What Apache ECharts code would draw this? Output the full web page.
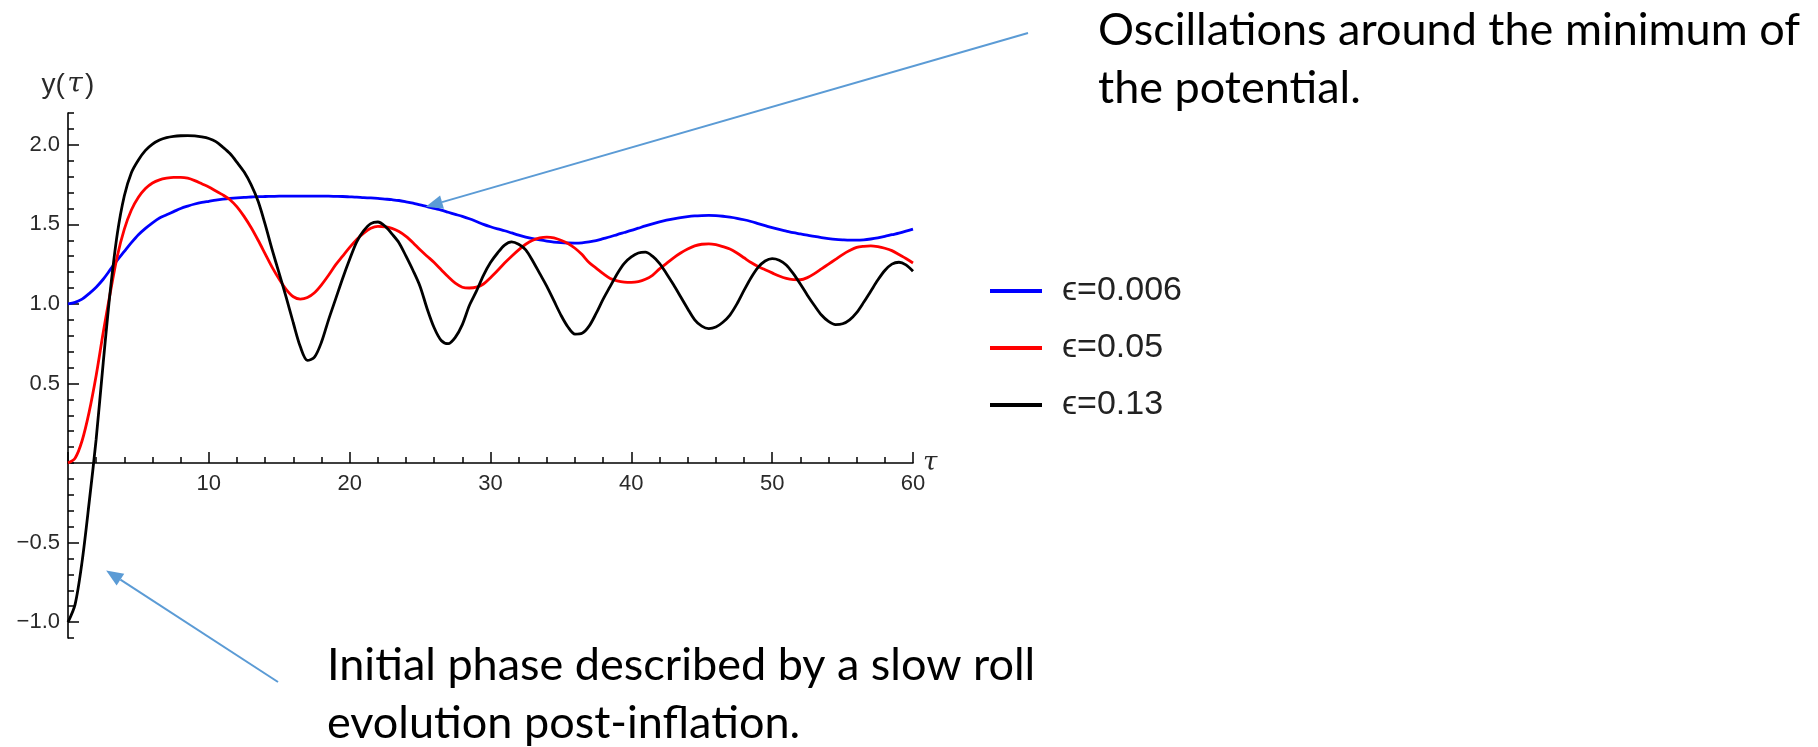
<!DOCTYPE html>
<html><head><meta charset="utf-8">
<script src="https://cdn.jsdelivr.net/npm/echarts@6/dist/echarts.min.js"></script>
<style>html,body{margin:0;padding:0;background:#fff}#c{width:1818px;height:747px}</style>
</head><body><div id="c"></div>
<script>
// ---- data (step 0.5 in tau) ----
const tau = [0,0.5,1,1.5,2,2.5,3,3.5,4,4.5,5,5.5,6,6.5,7,7.5,8,8.5,9,9.5,
  10,10.5,11,11.5,12,12.5,13,13.5,14,14.5,15,15.5,16,16.5,17,17.5,18,18.5,19,19.5,
  20,20.5,21,21.5,22,22.5,23,23.5,24,24.5,25,25.5,26,26.5,27,27.5,28,28.5,29,29.5,
  30,30.5,31,31.5,32,32.5,33,33.5,34,34.5,35,35.5,36,36.5,37,37.5,38,38.5,39,39.5,
  40,40.5,41,41.5,42,42.5,43,43.5,44,44.5,45,45.5,46,46.5,47,47.5,48,48.5,49,49.5,
  50,50.5,51,51.5,52,52.5,53,53.5,54,54.5,55,55.5,56,56.5,57,57.5,58,58.5,59,59.5,60];
const yEps0006 = [1.000,1.01,1.03,1.065,1.105,1.155,1.215,1.275,1.33,1.385,
  1.435,1.475,1.51,1.54,1.56,1.58,1.60,1.615,1.628,1.638,
  1.645,1.652,1.658,1.663,1.667,1.67,1.672,1.674,1.675,1.676,
  1.677,1.677,1.678,1.678,1.678,1.678,1.677,1.677,1.676,1.675,
  1.673,1.671,1.668,1.666,1.663,1.659,1.655,1.65,1.642,1.633,
  1.622,1.612,1.60,1.589,1.576,1.563,1.55,1.535,1.518,1.50,
  1.485,1.472,1.46,1.446,1.432,1.42,1.41,1.402,1.395,1.389,
  1.385,1.383,1.382,1.384,1.39,1.398,1.41,1.422,1.436,1.449,
  1.462,1.476,1.49,1.503,1.515,1.526,1.535,1.543,1.549,1.553,
  1.555,1.556,1.555,1.551,1.545,1.538,1.529,1.518,1.505,1.492,
  1.479,1.468,1.458,1.448,1.44,1.432,1.424,1.417,1.411,1.406,
  1.403,1.401,1.401,1.403,1.408,1.415,1.424,1.435,1.445,1.457,1.47];
const yEps005 = [0,0.03,0.14,0.32,0.55,0.82,1.07,1.30,1.47,1.59,
  1.67,1.725,1.76,1.78,1.79,1.795,1.795,1.79,1.775,1.755,
  1.735,1.71,1.685,1.655,1.61,1.55,1.48,1.40,1.315,1.23,
  1.155,1.09,1.045,1.03,1.04,1.07,1.12,1.18,1.245,1.30,
  1.355,1.405,1.445,1.475,1.487,1.485,1.475,1.455,1.425,1.385,
  1.34,1.30,1.26,1.215,1.17,1.13,1.105,1.10,1.105,1.125,
  1.165,1.21,1.257,1.30,1.34,1.375,1.40,1.415,1.42,1.415,
  1.40,1.38,1.35,1.31,1.26,1.225,1.19,1.16,1.145,1.137,
  1.135,1.14,1.155,1.18,1.22,1.255,1.29,1.32,1.345,1.365,
  1.375,1.377,1.372,1.36,1.345,1.32,1.29,1.26,1.235,1.215,
  1.195,1.175,1.16,1.153,1.152,1.165,1.19,1.22,1.25,1.28,
  1.31,1.335,1.355,1.362,1.365,1.36,1.35,1.335,1.31,1.285,1.257];
const yEps013 = [-1.00,-0.89,-0.62,-0.25,0.15,0.63,1.08,1.44,1.68,1.825,
  1.905,1.965,2.005,2.03,2.045,2.053,2.057,2.058,2.056,2.05,
  2.04,2.02,1.985,1.945,1.89,1.83,1.75,1.645,1.50,1.34,
  1.19,1.04,0.88,0.73,0.645,0.665,0.76,0.90,1.03,1.16,
  1.28,1.39,1.46,1.505,1.515,1.49,1.44,1.385,1.30,1.21,
  1.11,0.97,0.85,0.77,0.75,0.79,0.87,0.99,1.08,1.18,
  1.26,1.32,1.37,1.39,1.375,1.34,1.27,1.19,1.11,1.02,
  0.93,0.855,0.81,0.815,0.86,0.94,1.03,1.11,1.19,1.255,
  1.295,1.32,1.325,1.30,1.255,1.19,1.12,1.045,0.97,0.90,
  0.86,0.845,0.855,0.885,0.93,1.00,1.085,1.165,1.23,1.27,
  1.285,1.275,1.245,1.19,1.125,1.055,0.99,0.93,0.89,0.87,
  0.875,0.90,0.945,1.01,1.08,1.15,1.21,1.25,1.262,1.245,1.205];
const seriesNames = ['\u03F5=0.006','\u03F5=0.05','\u03F5=0.13'];
const seriesColors = ['#0000ff','#ff0000','#000000'];
const yMajorTicks = [-1,-0.5,0.5,1,1.5,2];
const noteTop = ['Oscillations around the minimum of','the potential.'];
const noteBottom = ['Initial phase described by a slow roll','evolution post-inflation.'];

const pair = arr => tau.map((t,i)=>[t,arr[i]]);
const allY = [yEps0006, yEps005, yEps013];

const yMin = -1.1, yMax = 2.2;
const gridTop = 113, gridBottom = 109, gridH = 747 - gridTop - gridBottom;
const zeroOffset = -gridH * (0 - yMin) / (yMax - yMin); // lift x axis onto y = 0

const chart = echarts.init(document.getElementById('c'), null, {renderer:'canvas'});
const axisCol = '#000';
const labFont = 'Liberation Sans, Arial, sans-serif';
chart.setOption({
  animation:false,
  backgroundColor:'#fff',
  grid:{left:68, right:905, top:gridTop, bottom:gridBottom, containLabel:false, outerBoundsMode:'none'},
  xAxis:[
    {type:'value', min:0, max:60, interval:10, position:'bottom', offset:zeroOffset,
     axisLine:{show:true, onZero:false, lineStyle:{color:axisCol,width:1.6}},
     axisTick:{show:true, inside:true, length:11, lineStyle:{color:axisCol,width:1.5}},
     axisLabel:{show:true, margin:10, fontSize:22, color:'#2a2a2a', fontFamily:labFont,
       formatter:v=> v===0 ? '' : String(v)},
     splitLine:{show:false},
     name:'\u03C4', nameLocation:'end', nameGap:10, nameMoveOverlap:false,
     nameTextStyle:{fontSize:26, fontStyle:'italic', fontFamily:'DejaVu Serif, serif', color:'#2a2a2a', verticalAlign:'middle'}},
    {type:'value', min:0, max:60, interval:2, position:'bottom', offset:zeroOffset,
     axisLine:{show:false, onZero:false},
     axisTick:{show:true, inside:true, length:6, lineStyle:{color:axisCol,width:1.5}},
     axisLabel:{show:false}, splitLine:{show:false}}
  ],
  yAxis:[
    {type:'value', min:yMin, max:yMax, position:'left',
     axisLine:{show:true, onZero:false, lineStyle:{color:axisCol,width:1.6}},
     axisTick:{show:true, inside:true, length:11, customValues:yMajorTicks, lineStyle:{color:axisCol,width:1.5}},
     axisLabel:{show:true, margin:8, fontSize:22, color:'#2a2a2a', fontFamily:labFont, customValues:yMajorTicks,
       formatter:v=> (v<0?'\u2212':'') + Math.abs(v).toFixed(1)},
     splitLine:{show:false},
     name:'y(\u200A{t|\u03C4}\u200A)', nameLocation:'end', nameGap:14, nameMoveOverlap:false,
     nameTextStyle:{fontSize:28, color:'#2a2a2a', fontFamily:labFont, align:'center', verticalAlign:'bottom',
       rich:{t:{fontSize:28, fontStyle:'italic', fontFamily:'DejaVu Serif, serif', color:'#2a2a2a'}}}},
    {type:'value', min:yMin, max:yMax, interval:0.1, position:'left',
     axisLine:{show:false, onZero:false},
     axisTick:{show:true, inside:true, length:6, lineStyle:{color:axisCol,width:1.5}},
     axisLabel:{show:false}, splitLine:{show:false}}
  ],
  legend:{
    orient:'vertical', left:990, top:274, padding:0,
    icon:'rect', itemWidth:52, itemHeight:4, itemGap:23,
    textStyle:{fontSize:34, lineHeight:34, color:'#222', fontFamily:labFont, padding:[0,0,0,15]},
    data:seriesNames
  },
  series: allY.map((arr,k)=>({
    name:seriesNames[k], type:'line', xAxisIndex:0, yAxisIndex:0,
    data:pair(arr), showSymbol:false, symbol:'none', smooth:0.3,
    lineStyle:{color:seriesColors[k], width:2.8}, itemStyle:{color:seriesColors[k]},
    z:2+k
  }))
});

// ---- annotations (arrows anchored to data coords) ----
const arrowCol = '#5B9BD5';
function arrow(tail, tip){
  const dx=tip[0]-tail[0], dy=tip[1]-tail[1], L=Math.hypot(dx,dy);
  const ux=dx/L, uy=dy/L, hl=17, hw=7;
  const bx=tip[0]-ux*hl, by=tip[1]-uy*hl;
  return [
    {type:'line', shape:{x1:tail[0],y1:tail[1],x2:bx,y2:by}, style:{stroke:arrowCol,lineWidth:2}, z:10},
    {type:'polygon', shape:{points:[[tip[0],tip[1]],[bx-uy*hw,by+ux*hw],[bx+uy*hw,by-ux*hw]]}, style:{fill:arrowCol}, z:10}
  ];
}
const tipTop = chart.convertToPixel({gridIndex:0},[25.4,1.61]);
const tipBot = chart.convertToPixel({gridIndex:0},[2.71,-0.675]);
const noteFont = '45px Lato, "Noto Sans", sans-serif';
function txt(s,x,y){
  return {type:'text', x:x, y:y, z:10,
    style:{text:s, font:noteFont, fill:'#000', textAlign:'left', textVerticalAlign:'middle', verticalAlign:'middle'}};
}
chart.setOption({graphic:[
  ...arrow([1028,33],tipTop),
  ...arrow([278,682],tipBot),
  txt(noteTop[0],1098,30),
  txt(noteTop[1],1098,88),
  txt(noteBottom[0],327,665),
  txt(noteBottom[1],327,723)
]});
</script></body></html>
